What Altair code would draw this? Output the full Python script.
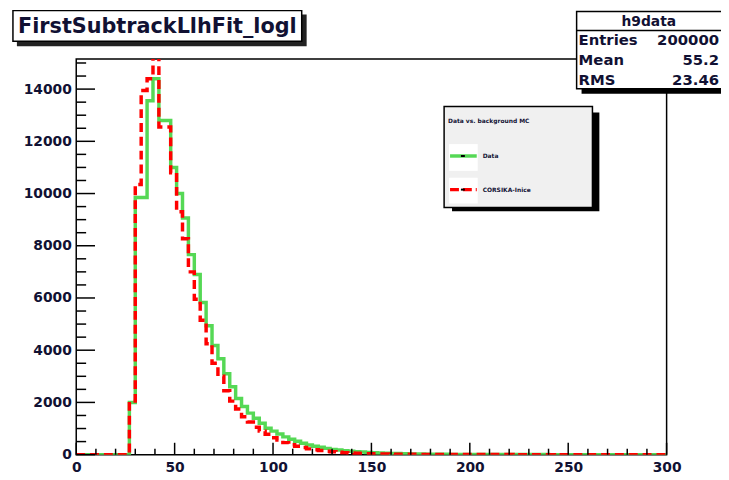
import altair as alt
import pandas as pd

# ---------------- data ----------------
BIN_WIDTH = 3
N_BINS = 100

green_counts = [
    0, 0, 0, 0, 0, 0, 0, 0, 0, 2000,
    9850, 9850, 13550, 14400, 12800, 12800, 11000, 10000, 9060, 7660,
    6900, 5830, 4940, 4180, 3670, 3100, 2600, 2150, 1840, 1590,
    1390, 1200, 1010, 900, 790, 680, 590, 510, 440, 370,
    320, 280, 240, 200, 175, 150, 130, 115, 100, 85,
    72, 62, 53, 45, 40, 34, 29, 25, 22, 19,
    16, 14, 12, 10, 9, 8, 7, 6, 6, 5,
    5, 4, 4, 3, 3, 3, 2, 2, 2, 2,
    1, 1, 1, 1, 1, 1, 1, 1, 0, 0,
    0, 1, 0, 0, 0, 0, 0, 0, 0, 0,
]
red_counts = [
    0, 0, 0, 0, 0, 0, 0, 0, 0, 2050,
    10350, 13950, 14400, 15400, 12550, 12550, 10800, 9300, 8270, 7000,
    5950, 5150, 4250, 3500, 3000, 2450, 2050, 1750, 1450, 1250,
    1050, 900, 780, 650, 560, 460, 380, 320, 270, 220,
    190, 160, 130, 110, 90, 75, 60, 50, 45, 38,
    32, 28, 24, 20, 18, 15, 13, 11, 10, 9,
    8, 7, 6, 5, 5, 4, 4, 3, 3, 3,
    2, 2, 2, 2, 1, 1, 1, 1, 1, 1,
    1, 0, 0, 1, 0, 0, 0, 0, 0, 0,
    0, 0, 0, 0, 0, 0, 0, 0, 0, 0,
]

x_major = [0, 50, 100, 150, 200, 250, 300]
x_minor = [v for v in range(0, 301, 10) if v % 50 != 0]
y_major = [0, 2000, 4000, 6000, 8000, 10000, 12000, 14000]
y_minor = [v for v in range(0, 15001, 500) if v % 2000 != 0]

title_text = "FirstSubtrackLlhFit_logl"
stats_name = "h9data"
stats_labels = ["Entries", "Mean", "RMS"]
stats_values = ["200000", "55.2", "23.46"]
legend_header = "Data vs. background MC"
legend_labels = ["Data", "CORSIKA-Inice"]

GREEN = "#55d855"
RED = "#ff0000"
FONT = "DejaVu Sans"
TXT = "#111133"

edges = [i * BIN_WIDTH for i in range(N_BINS + 1)]
hist = pd.DataFrame({
    "x": edges + edges,
    "count": green_counts + [green_counts[-1]] + red_counts + [red_counts[-1]],
    "series": ["Data"] * (N_BINS + 1) + ["MC"] * (N_BINS + 1),
})

xs = alt.Scale(domain=[0, 300], nice=False, zero=False)
ys = alt.Scale(domain=[0, 15150], nice=False)

W, H = 597, 400
one = pd.DataFrame({"a": [0]})

x_axis = alt.Axis(
    values=x_major, title=None, ticks=False, tickSize=0, domain=False, grid=False,
    labelFont=FONT, labelFontWeight="bold", labelFontSize=14, labelColor=TXT,
    labelPadding=6, labelFlush=False, labelOverlap=False, format="d")
y_axis = alt.Axis(
    values=y_major, title=None, ticks=False, tickSize=0, domain=False, grid=False,
    labelFont=FONT, labelFontWeight="bold", labelFontSize=14, labelColor=TXT,
    labelPadding=5, labelFlush=False, labelOverlap=False, format="d")

green = alt.Chart(hist).transform_filter(alt.datum.series == "Data").mark_line(
    color=GREEN, strokeWidth=3.5, interpolate="step-after", clip=True
).encode(
    x=alt.X("x:Q", scale=xs, axis=x_axis),
    y=alt.Y("count:Q", scale=ys, axis=y_axis),
)

red = alt.Chart(hist).transform_filter(alt.datum.series == "MC").mark_line(
    color=RED, strokeWidth=3.5, strokeDash=[9, 5], interpolate="step-after", clip=True
).encode(
    x=alt.X("x:Q", scale=xs, axis=x_axis),
    y=alt.Y("count:Q", scale=ys, axis=y_axis),
)

def yticks(vals, length):
    return alt.Chart(pd.DataFrame({"v": vals})).mark_rule(color="black", strokeWidth=1.5).encode(
        y=alt.Y("v:Q", scale=ys, axis=y_axis), x=alt.value(0), x2=alt.value(length))

def xticks(vals, length):
    return alt.Chart(pd.DataFrame({"v": vals})).mark_rule(color="black", strokeWidth=1.5).encode(
        x=alt.X("v:Q", scale=xs, axis=x_axis), y=alt.value(H), y2=alt.value(H - length))

def box(x1, y1, x2, y2, fill, stroke=None, sw=0):
    kw = dict(fill=fill)
    if stroke:
        kw.update(stroke=stroke, strokeWidth=sw)
    return alt.Chart(one).mark_rect(**kw).encode(
        x=alt.value(x1), x2=alt.value(x2), y=alt.value(y1), y2=alt.value(y2))

def text(x, y, s, size, align="left", weight="bold", baseline="alphabetic", color=TXT):
    return alt.Chart(one).mark_text(
        font=FONT, fontSize=size, fontWeight=weight, align=align, baseline=baseline, color=color
    ).encode(x=alt.value(x), y=alt.value(y), text=alt.value(s))

def hline(x1, x2, y, color, sw, dash=None):
    kw = dict(color=color, strokeWidth=sw)
    if dash:
        kw["strokeDash"] = dash
    return alt.Chart(one).mark_rule(**kw).encode(
        x=alt.value(x1), x2=alt.value(x2), y=alt.value(y))

# page -> plot coordinates: plot origin at page (77, 57)
OX, OY = 77, 57
def P(px, py):
    return px - OX, py - OY

layers = [green, red, yticks(y_major, 19), yticks(y_minor, 10), xticks(x_major, 12), xticks(x_minor, 6)]

# legend
lx1, ly1 = P(449, 105); lx2, ly2 = P(599, 207)
sx1, sy1 = P(457, 111); sx2, sy2 = P(606, 211)
layers += [box(sx1, sy1, sx2, sy2, "black"), box(lx1, ly1, lx2, ly2, "#f0f0f0", "black", 1.5)]
hx, hy = P(453, 122)
layers.append(text(hx, hy, legend_header, 6))
b1 = P(454, 143); b2 = P(483, 170)
layers.append(box(b1[0], b1[1], b2[0], b2[1], "white"))
b1 = P(454, 177); b2 = P(483, 203)
layers.append(box(b1[0], b1[1], b2[0], b2[1], "white"))
g1 = P(455, 155); g2 = P(482, 155)
layers.append(hline(g1[0], g2[0], g1[1], GREEN, 3.5))
r1 = P(455, 189); r2 = P(482, 189)
layers.append(hline(r1[0], r2[0], r1[1], RED, 3.5, [9, 4]))
d1 = P(466, 155); d2 = P(470, 155)
layers.append(hline(d1[0], d2[0], d1[1], "black", 2))
d1 = P(466, 189); d2 = P(470, 189)
layers.append(hline(d1[0], d2[0], d1[1], "black", 2))
t1 = P(488, 155)
layers.append(text(t1[0], t1[1], legend_labels[0], 6, baseline="middle"))
t2 = P(488, 189)
layers.append(text(t2[0], t2[1], legend_labels[1], 6, baseline="middle"))

# stats box
a1 = P(588, 14); a2 = P(740, 92)
layers.append(box(a1[0], a1[1], a2[0], a2[1], "black"))
a1 = P(583, 9); a2 = P(740, 87)
layers.append(box(a1[0], a1[1], a2[0], a2[1], "white", "black", 1.5))
l1 = P(583, 28); l2 = P(740, 28)
layers.append(hline(l1[0], l2[0], l1[1], "black", 1.5))
c = P(656, 24)
layers.append(text(c[0], c[1], stats_name, 14, align="center"))
for i, (lab, val) in enumerate(zip(stats_labels, stats_values)):
    p = P(585, 43 + 20 * i)
    layers.append(text(p[0], p[1], lab, 15))
    q = P(727, 43 + 20 * i)
    layers.append(text(q[0], q[1], val, 15, align="right"))

# title box
a1 = P(17, 12); a2 = P(310, 44)
layers.append(box(a1[0], a1[1], a2[0], a2[1], "#222222"))
a1 = P(13, 8); a2 = P(305, 39)
layers.append(box(a1[0], a1[1], a2[0], a2[1], "white", "black", 1.5))
c = P(159, 31)
layers.append(text(c[0], c[1], title_text, 21, align="center"))

chart = alt.layer(*layers).properties(
    width=W, height=H,
    padding={"left": 69, "top": 49, "right": 55, "bottom": 23},
    autosize=alt.AutoSizeParams(type="none"),
    background="white",
).configure_view(stroke="black", strokeWidth=1.5)

chart.save("out.html", embed_options={"renderer": "svg", "actions": False})
